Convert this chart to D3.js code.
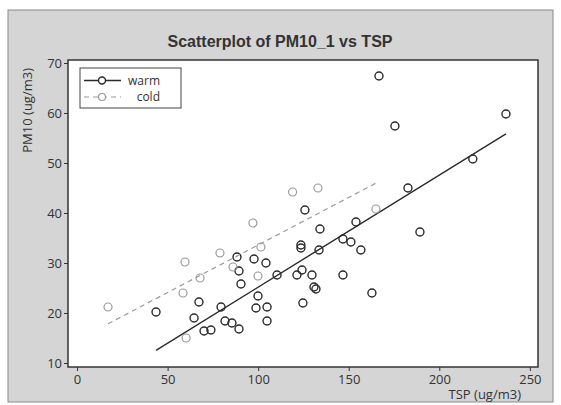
<!DOCTYPE html>
<html>
<head>
<meta charset="utf-8">
<script src="https://cdn.jsdelivr.net/npm/d3@7"></script>
<style>
  body { margin: 0; background: #fff; }
  svg { display: block; font-family: "Liberation Sans", Arial, sans-serif; }
</style>
</head>
<body>
<div id="chart"></div>
<script>
// data
const warmTSP = [43.6, 64.6, 67.3, 70.1, 73.9, 79.5, 81.7, 85.5, 89.4, 99.9, 98.8, 104.9, 104.9, 88.3, 97.7, 104.3, 89.4, 90.5, 110.4, 123.6, 123.6, 124.2, 121.4, 124.7, 125.8, 134.1, 133.6, 129.7, 130.8, 131.9, 146.8, 151.2, 154.0, 156.7, 146.8, 162.8, 166.7, 175.5, 182.7, 189.3, 218.5, 236.8];
const warmPM10 = [20.2, 19.0, 22.2, 16.4, 16.6, 21.2, 18.4, 18.0, 16.8, 23.4, 21.0, 21.2, 18.4, 31.2, 30.8, 30.0, 28.4, 25.8, 27.6, 33.6, 33.0, 28.6, 27.6, 22.0, 40.6, 36.8, 32.6, 27.6, 25.2, 24.8, 34.8, 34.2, 38.2, 32.6, 27.6, 24.0, 67.4, 57.4, 45.0, 36.2, 50.8, 59.8];
const coldTSP = [17.1, 58.5, 60.2, 59.6, 78.9, 67.9, 86.1, 97.1, 101.5, 99.9, 119.0, 133.0, 165.0];
const coldPM10 = [21.2, 24.0, 15.0, 30.2, 32.0, 27.0, 29.2, 38.0, 33.2, 27.4, 44.2, 45.0, 40.8];
const xTicks = [0, 50, 100, 150, 200, 250];
const yTicks = [10, 20, 30, 40, 50, 60, 70];
const groupNames = ['warm', 'cold'];

const width = 561;
const height = 405;
const plot = { left: 68, right: 538, top: 60, bottom: 367 };

const svg = d3.select('#chart').append('svg').attr('width', width).attr('height', height);

// grey page with its border
svg.append('rect').attr('x', 8).attr('y', 10).attr('width', 545).attr('height', 392)
  .attr('fill', '#d5d5d5').attr('stroke', '#8a8a8a').attr('stroke-width', 1);

// plot area
svg.append('rect').attr('x', plot.left).attr('y', plot.top)
  .attr('width', plot.right - plot.left).attr('height', plot.bottom - plot.top)
  .attr('fill', '#fff');

const x = d3.scaleLinear().domain([-5, 254.5]).range([plot.left, plot.right]);
const y = d3.scaleLinear().domain([9.2, 70.6]).range([plot.bottom, plot.top]);

// axes
const xAxis = svg.append('g').attr('transform', 'translate(0,' + plot.bottom + ')')
  .call(d3.axisBottom(x).tickValues(xTicks).tickSize(4).tickPadding(4));
const yAxis = svg.append('g').attr('transform', 'translate(' + plot.left + ',0)')
  .call(d3.axisLeft(y).tickValues(yTicks).tickSize(4).tickPadding(2));
[xAxis, yAxis].forEach(ax => {
  ax.select('.domain').remove();
  ax.selectAll('line').attr('stroke', '#333');
  ax.selectAll('text').attr('fill', '#333').style('font-size', '13px').style('font-family', '"Open Sans", sans-serif');
});

// frame on top of the white area
svg.append('rect').attr('x', plot.left).attr('y', plot.top)
  .attr('width', plot.right - plot.left).attr('height', plot.bottom - plot.top)
  .attr('fill', 'none').attr('stroke', '#333').attr('stroke-width', 1.5);

// least squares line for a group
function fitLine(xs, ys) {
  const mx = d3.mean(xs), my = d3.mean(ys);
  let sxy = 0, sxx = 0;
  xs.forEach((v, i) => {
    sxy += (v - mx) * (ys[i] - my);
    sxx += (v - mx) * (v - mx);
  });
  const slope = sxy / sxx;
  const b = my - slope * mx;
  const x0 = d3.min(xs), x1 = d3.max(xs);
  return [[x0, b + slope * x0], [x1, b + slope * x1]];
}

const groups = [
  { name: groupNames[0], xs: warmTSP, ys: warmPM10, color: '#2a2a2a', dash: null, width: 1.4 },
  { name: groupNames[1], xs: coldTSP, ys: coldPM10, color: '#9a9a9a', dash: '5,4', width: 1.2 }
];

const line = d3.line().x(d => x(d[0])).y(d => y(d[1]));

groups.forEach(g => {
  svg.append('path').datum(fitLine(g.xs, g.ys))
    .attr('d', line).attr('fill', 'none')
    .attr('stroke', g.color).attr('stroke-width', g.width)
    .attr('stroke-dasharray', g.dash);
  svg.append('g').selectAll('circle').data(g.xs).enter().append('circle')
    .attr('cx', d => x(d))
    .attr('cy', (d, i) => y(g.ys[i]))
    .attr('r', 4)
    .attr('fill', 'none')
    .attr('stroke', g.color)
    .attr('stroke-width', g.width);
});

// legend box
const legend = svg.append('g');
legend.append('rect').attr('x', 80).attr('y', 68).attr('width', 101).attr('height', 40)
  .attr('fill', '#fff').attr('stroke', '#444').attr('stroke-width', 1);
groups.forEach((g, i) => {
  const ly = 80.5 + i * 16.5;
  legend.append('line').attr('x1', 84).attr('x2', 121).attr('y1', ly).attr('y2', ly)
    .attr('stroke', g.color).attr('stroke-width', g.width).attr('stroke-dasharray', g.dash);
  legend.append('circle').attr('cx', 102).attr('cy', ly).attr('r', 3.5)
    .attr('fill', '#fff').attr('stroke', g.color).attr('stroke-width', g.width);
  legend.append('text').attr('x', 160).attr('y', ly + 4).attr('text-anchor', 'end')
    .style('font-size', '12px').style('font-family', '"Open Sans", sans-serif')
    .attr('fill', '#333').text(g.name);
});

// title and axis labels
svg.append('text').attr('x', 280).attr('y', 47).attr('text-anchor', 'middle')
  .style('font-size', '16px').style('font-weight', 'bold').attr('fill', '#333')
  .text('Scatterplot of PM10_1 vs TSP');
svg.append('text').attr('transform', 'translate(32,68) rotate(-90)').attr('text-anchor', 'end')
  .style('font-size', '13px').style('font-family', '"Open Sans", sans-serif').attr('fill', '#333')
  .text('PM10 (ug/m3)');
svg.append('text').attr('x', 521).attr('y', 399).attr('text-anchor', 'end')
  .style('font-size', '13px').style('font-family', '"Open Sans", sans-serif').attr('fill', '#333')
  .text('TSP (ug/m3)');
</script>
</body>
</html>
